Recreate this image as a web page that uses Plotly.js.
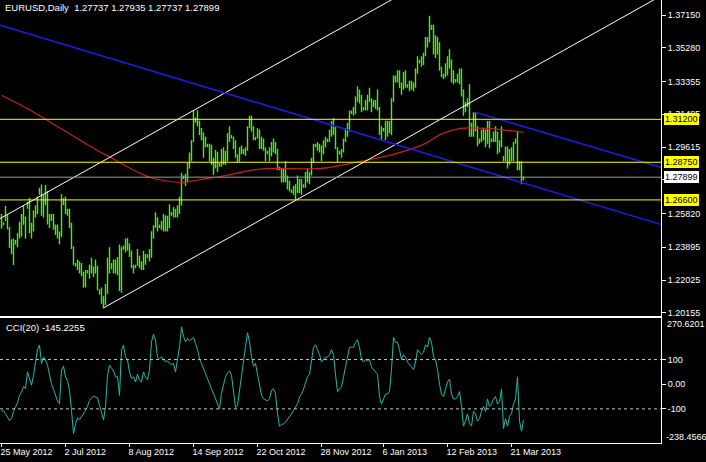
<!DOCTYPE html>
<html><head><meta charset="utf-8">
<script src="https://cdn.plot.ly/plotly-3.0.1.min.js"></script>
<style>html,body{margin:0;padding:0;background:#000;overflow:hidden}#chart{width:706px;height:462px}</style>
</head><body><div id="chart"></div>
<script>
// ---- price bars (daily EURUSD, index 0 = 25 May 2012) ----
const open = [1.2530,
1.2520,1.2550,1.2565,1.2495,1.2390,1.2370, 1.2410,1.2425,1.2450,1.2455,1.2560,1.2530,
1.2620,1.2640,1.2480,1.2500,1.2565,1.2620, 1.2700,1.2720,1.2580,1.2680,1.2700,1.2535,
1.2560,1.2560,1.2510,1.2495,1.2470,1.2450, 1.2640,1.2655,1.2590,1.2600,1.2510,1.2390,
1.2285,1.2295,1.2290,1.2245,1.2240,1.2200, 1.2245,1.2255,1.2285,1.2270,1.2265,1.2280,
1.2130,1.2140,1.2110,1.2065,1.2160,1.2290, 1.2270,1.2290,1.2260,1.2300,1.2310,1.2170,
1.2385,1.2390,1.2400,1.2410,1.2370,1.2280, 1.2275,1.2285,1.2340,1.2280,1.2290,1.2350,
1.2330,1.2340,1.2335,1.2480,1.2510,1.2560, 1.2505,1.2515,1.2505,1.2570,1.2530,1.2540,
1.2575,1.2585,1.2600,1.2580,1.2610,1.2630, 1.2790,1.2795,1.2765,1.2860,1.2900,1.2995,
1.3110,1.3120,1.3110,1.3050,1.3040,1.2975, 1.2965,1.2970,1.2940,1.2870,1.2870,1.2920,
1.2855,1.2860,1.2890,1.2895,1.2900,1.3030, 1.3020,1.3020,1.2960,1.2905,1.2880,1.2950,
1.2935,1.2940,1.2950,1.3070,1.3120,1.3060, 1.3010,1.3015,1.3060,1.2960,1.2980,1.2950,
1.2925,1.2930,1.2910,1.2970,1.2960,1.2950, 1.2835,1.2840,1.2795,1.2815,1.2765,1.2745,
1.2705,1.2710,1.2710,1.2715,1.2740,1.2775, 1.2735,1.2740,1.2810,1.2815,1.2815,1.2885,
1.2965,1.2970,1.2975,1.2945,1.2950,1.2980, 1.2995,1.3000,1.3050,1.3100,1.3070,1.2960,
1.2920,1.2930,1.2945,1.3000,1.3060,1.3080, 1.3155,1.3160,1.3165,1.3240,1.3265,1.3240,
1.3180,1.3185,1.3220,1.3230,1.3225,1.3215, 1.3200,1.3190,1.3180,1.3050,1.3060,1.3060,
1.3110,1.3080,1.3060,1.3230,1.3340,1.3355, 1.3380,1.3300,1.3290,1.3380,1.3305,1.3310,
1.3320,1.3310,1.3315,1.3385,1.3450,1.3455, 1.3450,1.3490,1.3575,1.3580,1.3650,1.3645,
1.3520,1.3590,1.3520,1.3400,1.3360,1.3370, 1.3400,1.3455,1.3460,1.3365,1.3340,1.3345,
1.3360,1.3400,1.3280,1.3190,1.3195,1.3230, 1.3060,1.3060,1.3140,1.3060,1.2990,1.3000,
1.3020,1.3050,1.2980,1.3100,1.2995,1.3000, 1.3030,1.3040,1.2950,1.2985,1.2895,1.2900,
1.2960,1.2880,1.2940,1.2900,1.2990,1.3000, 1.2860,1.2850,1.27737];
const high = [1.2580,
1.2532,1.2625,1.2577,1.2505,1.2436,1.2440, 1.2432,1.2470,1.2535,1.2580,1.2625,1.2565,
1.2650,1.2672,1.2530,1.2600,1.2630,1.2680, 1.2730,1.2748,1.2690,1.2745,1.2710,1.2580,
1.2580,1.2580,1.2520,1.2520,1.2480,1.2692, 1.2670,1.2680,1.2610,1.2610,1.2530,1.2395,
1.2300,1.2320,1.2310,1.2300,1.2250,1.2260, 1.2260,1.2290,1.2330,1.2280,1.2320,1.2285,
1.2150,1.2160,1.2110,1.2180,1.2330,1.2390, 1.2300,1.2320,1.2320,1.2335,1.2405,1.2390,
1.2400,1.2440,1.2443,1.2410,1.2370,1.2290, 1.2290,1.2380,1.2340,1.2310,1.2370,1.2350,
1.2350,1.2380,1.2480,1.2515,1.2590,1.2560, 1.2520,1.2540,1.2580,1.2570,1.2570,1.2635,
1.2590,1.2620,1.2610,1.2630,1.2680,1.2815, 1.2800,1.2810,1.2870,1.2930,1.3000,1.3169,
1.3130,1.3172,1.3110,1.3070,1.3045,1.3020, 1.2980,1.2980,1.2975,1.2900,1.2945,1.2935,
1.2870,1.2950,1.2960,1.2940,1.3040,1.3080, 1.3030,1.3020,1.3000,1.2920,1.2960,1.2970,
1.2950,1.2960,1.3080,1.3140,1.3140,1.3080, 1.3020,1.3070,1.3060,1.3020,1.3010,1.2960,
1.2940,1.2960,1.2990,1.3010,1.2990,1.2950, 1.2850,1.2840,1.2840,1.2880,1.2800,1.2770,
1.2720,1.2740,1.2750,1.2800,1.2780,1.2780, 1.2750,1.2820,1.2840,1.2820,1.2900,1.2980,
1.2980,1.2990,1.2980,1.2970,1.3000,1.3020, 1.3010,1.3060,1.3110,1.3127,1.3080,1.2960,
1.2940,1.2950,1.3010,1.3070,1.3100,1.3170, 1.3170,1.3190,1.3250,1.3308,1.3290,1.3260,
1.3190,1.3230,1.3260,1.3300,1.3240,1.3230, 1.3230,1.3290,1.3190,1.3080,1.3070,1.3110,
1.3110,1.3110,1.3240,1.3370,1.3370,1.3400, 1.3400,1.3330,1.3390,1.3400,1.3320,1.3340,
1.3340,1.3330,1.3410,1.3480,1.3460,1.3480, 1.3500,1.3590,1.3590,1.3711,1.3660,1.3660,
1.3600,1.3590,1.3560,1.3420,1.3380,1.3440, 1.3480,1.3520,1.3460,1.3400,1.3350,1.3380,
1.3410,1.3410,1.3290,1.3220,1.3240,1.3320, 1.3100,1.3160,1.3160,1.3080,1.3010,1.3060,
1.3070,1.3060,1.3110,1.3110,1.3010,1.3050, 1.3080,1.3050,1.3000,1.3080,1.2910,1.2965,
1.2965,1.2950,1.2960,1.2990,1.3010,1.3050, 1.2880,1.2880,1.27935];
const low = [1.2495,
1.2515,1.2540,1.2492,1.2385,1.2350,1.2288, 1.2405,1.2390,1.2440,1.2450,1.2518,1.2440,
1.2610,1.2470,1.2440,1.2480,1.2560,1.2580, 1.2690,1.2570,1.2560,1.2630,1.2520,1.2500,
1.2540,1.2490,1.2460,1.2440,1.2407,1.2450, 1.2630,1.2580,1.2570,1.2500,1.2380,1.2290,
1.2280,1.2260,1.2240,1.2225,1.2160,1.2160, 1.2240,1.2210,1.2240,1.2220,1.2240,1.2145,
1.2120,1.2067,1.2042,1.2060,1.2125,1.2240, 1.2265,1.2240,1.2240,1.2230,1.2140,1.2130,
1.2375,1.2360,1.2370,1.2335,1.2270,1.2240, 1.2270,1.2285,1.2270,1.2260,1.2260,1.2290,
1.2330,1.2310,1.2330,1.2440,1.2500,1.2480, 1.2500,1.2490,1.2480,1.2480,1.2480,1.2500,
1.2570,1.2560,1.2560,1.2560,1.2580,1.2630, 1.2780,1.2740,1.2760,1.2840,1.2880,1.2990,
1.3100,1.3080,1.3030,1.3000,1.2900,1.2960, 1.2960,1.2880,1.2860,1.2803,1.2840,1.2820,
1.2850,1.2850,1.2860,1.2860,1.2880,1.2990, 1.3010,1.2950,1.2900,1.2870,1.2880,1.2920,
1.2920,1.2910,1.2940,1.3070,1.3050,1.3000, 1.3000,1.3010,1.2950,1.2950,1.2940,1.2880,
1.2920,1.2880,1.2910,1.2930,1.2920,1.2830, 1.2830,1.2760,1.2760,1.2760,1.2720,1.2710,
1.2700,1.2690,1.2661,1.2700,1.2700,1.2690, 1.2730,1.2730,1.2760,1.2750,1.2800,1.2870,
1.2960,1.2940,1.2930,1.2880,1.2920,1.2960, 1.2990,1.2990,1.3020,1.3030,1.2950,1.2876,
1.2920,1.2900,1.2930,1.2990,1.3020,1.3050, 1.3150,1.3140,1.3150,1.3220,1.3210,1.3160,
1.3170,1.3170,1.3170,1.3220,1.3160,1.3190, 1.3180,1.3170,1.3030,1.2998,1.3050,1.3000,
1.3020,1.3040,1.3030,1.3220,1.3330,1.3330, 1.3300,1.3260,1.3290,1.3300,1.3300,1.3280,
1.3290,1.3280,1.3300,1.3380,1.3440,1.3420, 1.3430,1.3480,1.3530,1.3560,1.3630,1.3490,
1.3470,1.3490,1.3400,1.3360,1.3350,1.3360, 1.3370,1.3410,1.3330,1.3320,1.3330,1.3330,
1.3320,1.3250,1.3140,1.3160,1.3190,1.3020, 1.3020,1.3020,1.3050,1.2966,1.2980,1.2990,
1.3000,1.2960,1.2980,1.2955,1.2990,1.2990, 1.2990,1.2920,1.2930,1.2960,1.2880,1.2880,
1.2840,1.2860,1.2880,1.2880,1.2980,1.2830, 1.2830,1.2750,1.27737];
const close = [1.2516,
1.2528,1.2565,1.2495,1.2390,1.2370,1.2435, 1.2425,1.2450,1.2455,1.2560,1.2530,1.2500,
1.2640,1.2480,1.2500,1.2565,1.2620,1.2640, 1.2720,1.2580,1.2680,1.2700,1.2535,1.2570,
1.2560,1.2510,1.2495,1.2470,1.2450,1.2660, 1.2655,1.2590,1.2605,1.2510,1.2390,1.2290,
1.2295,1.2290,1.2245,1.2240,1.2200,1.2250, 1.2255,1.2285,1.2270,1.2265,1.2280,1.2155,
1.2140,1.2110,1.2065,1.2160,1.2290,1.2290, 1.2290,1.2260,1.2300,1.2310,1.2170,1.2390,
1.2390,1.2400,1.2410,1.2370,1.2280,1.2285, 1.2285,1.2340,1.2280,1.2290,1.2350,1.2335,
1.2340,1.2335,1.2480,1.2510,1.2560,1.2515, 1.2515,1.2505,1.2570,1.2530,1.2540,1.2575,
1.2585,1.2600,1.2580,1.2610,1.2630,1.2800, 1.2795,1.2765,1.2860,1.2900,1.2995,1.3130,
1.3120,1.3110,1.3050,1.3040,1.2975,1.2975, 1.2970,1.2940,1.2870,1.2870,1.2920,1.2855,
1.2860,1.2890,1.2895,1.2900,1.3030,1.3035, 1.3020,1.2960,1.2905,1.2880,1.2950,1.2950,
1.2940,1.2950,1.3070,1.3120,1.3060,1.3020, 1.3015,1.3060,1.2960,1.2980,1.2950,1.2940,
1.2930,1.2910,1.2970,1.2960,1.2950,1.2835, 1.2840,1.2795,1.2815,1.2765,1.2745,1.2710,
1.2710,1.2710,1.2715,1.2740,1.2775,1.2740, 1.2740,1.2810,1.2815,1.2815,1.2885,1.2975,
1.2970,1.2975,1.2945,1.2950,1.2980,1.2985, 1.3000,1.3050,1.3100,1.3070,1.2960,1.2925,
1.2930,1.2945,1.3000,1.3060,1.3080,1.3160, 1.3160,1.3165,1.3240,1.3265,1.3240,1.3185,
1.3185,1.3220,1.3230,1.3225,1.3220,1.3200, 1.3190,1.3180,1.3050,1.3070,1.3060,1.3110,
1.3080,1.3060,1.3230,1.3360,1.3355,1.3380, 1.3300,1.3290,1.3380,1.3320,1.3310,1.3320,
1.3310,1.3315,1.3385,1.3460,1.3455,1.3450, 1.3490,1.3575,1.3580,1.3640,1.3645,1.3520,
1.3590,1.3520,1.3400,1.3365,1.3370,1.3400, 1.3455,1.3460,1.3365,1.3360,1.3345,1.3360,
1.3400,1.3280,1.3190,1.3190,1.3230,1.3060, 1.3060,1.3140,1.3060,1.3020,1.3000,1.3020,
1.3050,1.2980,1.3100,1.3000,1.3000,1.3030, 1.3040,1.2950,1.2985,1.3075,1.2900,1.2960,
1.2880,1.2940,1.2900,1.2985,1.3000,1.2860, 1.2850,1.2775,1.27899];

// ---- CCI(20) ----
const cci = [-110,-107,-120,-136,-147,-140, -110,-93,-76,-45,-32,-9,
-18,50,23,-4,36,98, 141,159,84,111,98,77, 36,2,-21,-45,-68,-79,
57,73,30,16,-25,-106, -201,-160,-136,-144,-131,-122, -106,-90,-66,-55,-49,-52,
-55,-86,-113,-144,-93,36, 77,64,54,30,30,-45, 138,159,111,98,50,23,
30,9,41,16,9,50, 30,19,57,172,203,179, 108,104,111,100,91,95,
84,81,84,50,104,152, 233,195,172,186,176,183, 190,165,141,104,84,60,
41,27,0,-18,-36,-55, -72,-100,-36,0,30,46, 54,36,-25,-95,-86,-22,
43,95,152,209,172,111, 73,84,43,-11,-45,-59, -63,-68,-59,-25,-18,-38,
-120,-171,-163,-161,-154,-144, -131,-120,-106,-95,-79,-52, -40,-20,10,30,40,90,
150,160,140,120,90,100, 110,110,120,140,120,40, -30,-20,-10,30,70,100,
150,150,150,170,180,150, 100,90,100,95,100,70, 60,50,40,-50,-80,-60,
-40,-40,-30,60,190,170, 170,140,100,120,110,90, 80,70,60,90,140,130,
120,130,160,150,190,170, 110,100,60,0,-40,-50, -20,10,20,-40,-60,-60,
-50,-30,-90,-170,-150,-120, -160,-170,-110,-120,-150,-140, -110,-90,-110,-60,-90,-80,
-60,-50,-80,-70,-20,-180, -140,-170,-130,-120,-80,-60, 30,-150,-190,-145.2255];
const cciLevels = [100, -100];

// ---- moving average (red), read at points along the line ----
const maIdx = [0,14.5,29.5,48,54.5,64.5,74.5,89.5,99.5,109.5,124.5,134.5,159.5,177,189.5,199.5,212,219.5,229.5,243,253,261];
const maVal = [1.32572,1.31714,1.30684,1.29425,1.29025,1.28395,1.27880,1.27594,1.27766,1.27937,1.28281,1.28395,1.28395,1.28739,1.29025,1.29311,1.29826,1.30341,1.30684,1.30684,1.30570,1.30456];

// ---- trend lines (two anchor points each: bar index, price) ----
const whiteUpperX = [-0.75, 200], whiteUpperY = [1.25534, 1.38338];
const whiteLowerX = [51, 330],    whiteLowerY = [1.2044, 1.3826];
const blueLongX   = [-0.75, 330], blueLongY   = [1.36578, 1.25191];
const blueShortX  = [237, 330],   blueShortY  = [1.31600, 1.28452];

// ---- horizontal levels ----
const levelPrices = [1.31200, 1.28750, 1.26600];
const levelLabels = ['1.31200', '1.28750', '1.26600'];
const bidPrice = 1.27899, bidLabel = '1.27899';

// ---- axis ticks ----
const priceTicks = [1.37150,1.35280,1.33355,1.31485,1.29615,1.27750,1.25820,1.23895,1.22025,1.20155];
const priceTickText = ['1.37150','1.35280','1.33355','1.31485','1.29615','','1.25820','1.23895','1.22025','1.20155'];
const cciTicks = [100, 0, -100];
const cciTickText = ['100', '0.00', '-100'];
const cciMax = 270.6201, cciMin = -238.4566;
const dateTickIdx = [0, 32, 64, 96, 128, 160, 191, 223, 255];
const dateTickText = ['25 May 2012','2 Jul 2012','8 Aug 2012','14 Sep 2012','22 Oct 2012','28 Nov 2012','6 Jan 2013','12 Feb 2013','21 Mar 2013'];

const titleText = 'EURUSD,Daily\u00a0 1.27737 1.27935 1.27737 1.27899';
const cciTitle = 'CCI(20) -145.2255';

// ---------- drawing ----------
const FONT = '"Liberation Sans", Arial, sans-serif';
const BAR = '#4ee81c';
const idx = open.map((_, i) => i);
const PH = 443; // plot height in px (margin b = 19)
const mainLow = (PH - 315.5) / PH, cciHigh = (PH - 317.5) / PH;
const XR = [-0.75, 329.75];

const traces = [
  {type:'ohlc', x:idx, open:open, high:high, low:low, close:close, xaxis:'x', yaxis:'y',
   increasing:{line:{color:BAR, width:1.4}}, decreasing:{line:{color:BAR, width:1.4}},
   tickwidth:0.25, hoverinfo:'skip', showlegend:false},
  {type:'scatter', mode:'lines', x:maIdx, y:maVal, xaxis:'x', yaxis:'y',
   line:{color:'#c81e1e', width:1.2, shape:'spline', smoothing:0.8}, hoverinfo:'skip', showlegend:false},
  {type:'scatter', mode:'lines', x:whiteUpperX, y:whiteUpperY, xaxis:'x', yaxis:'y', line:{color:'#ffffff', width:1}, hoverinfo:'skip', showlegend:false},
  {type:'scatter', mode:'lines', x:whiteLowerX, y:whiteLowerY, xaxis:'x', yaxis:'y', line:{color:'#ffffff', width:1}, hoverinfo:'skip', showlegend:false},
  {type:'scatter', mode:'lines', x:blueLongX, y:blueLongY, xaxis:'x', yaxis:'y', line:{color:'#1c1cd8', width:1.6}, hoverinfo:'skip', showlegend:false},
  {type:'scatter', mode:'lines', x:blueShortX, y:blueShortY, xaxis:'x', yaxis:'y', line:{color:'#1c1cd8', width:1.6}, hoverinfo:'skip', showlegend:false},
  {type:'scatter', mode:'lines', x:idx, y:cci, xaxis:'x2', yaxis:'y2', line:{color:'#2bb5a8', width:1}, hoverinfo:'skip', showlegend:false}
];

const shapes = [];
levelPrices.forEach(p => shapes.push({type:'line', xref:'paper', x0:0, x1:1, yref:'y', y0:p, y1:p, line:{color:'#ffff00', width:1}}));
shapes.push({type:'line', xref:'paper', x0:0, x1:1, yref:'y', y0:bidPrice, y1:bidPrice, line:{color:'#9a9a9a', width:1}});
cciLevels.forEach(v => shapes.push({type:'line', xref:'paper', x0:0, x1:1, yref:'y2', y0:v, y1:v, line:{color:'#c8c8c8', width:1, dash:'3px,3px'}}));

const txt = (s, c) => ({family:FONT, size:s, color:c || '#ffffff'});
const annotations = [
  {xref:'paper', yref:'paper', x:3/661, y:1 - 8/PH, xanchor:'left', yanchor:'middle', text:titleText, showarrow:false, font:txt(9.5)},
  {xref:'paper', yref:'paper', x:4/661, y:(PH - 327)/PH, xanchor:'left', yanchor:'middle', text:cciTitle, showarrow:false, font:txt(9.5)},
  {xref:'paper', yref:'paper', x:665/661, y:(PH - 323.5)/PH, xanchor:'left', yanchor:'middle', text:cciMax.toFixed(4), showarrow:false, font:txt(9)},
  {xref:'paper', yref:'paper', x:664/661, y:(PH - 436.5)/PH, xanchor:'left', yanchor:'middle', text:cciMin.toFixed(4), showarrow:false, font:txt(9)}
];
levelPrices.forEach((p, k) => annotations.push({xref:'paper', yref:'y', x:664/661, y:p, xanchor:'left', yanchor:'middle',
  text:levelLabels[k], showarrow:false, font:txt(9, '#000000'), bgcolor:'#ffff00', bordercolor:'#ffff00', borderwidth:1, borderpad:0}));
annotations.push({xref:'paper', yref:'y', x:664/661, y:bidPrice, xanchor:'left', yanchor:'middle',
  text:bidLabel, showarrow:false, font:txt(9, '#000000'), bgcolor:'#ffffff', bordercolor:'#ffffff', borderwidth:1, borderpad:0});

const layout = {
  width:706, height:462,
  margin:{l:0, r:45, t:0, b:19, pad:0},
  paper_bgcolor:'#000000', plot_bgcolor:'#000000',
  showlegend:false,
  font:{family:FONT, size:9, color:'#ffffff'},
  xaxis:{domain:[0,1], anchor:'y', range:XR, showticklabels:false, ticks:'', showgrid:false, zeroline:false,
         showline:true, linecolor:'#ffffff', linewidth:1, rangeslider:{visible:false}, fixedrange:true},
  yaxis:{domain:[mainLow,1], anchor:'x', side:'right', range:[1.20005, 1.38008], showgrid:false, zeroline:false,
         showline:true, linecolor:'#ffffff', linewidth:1, ticks:'outside', ticklen:4, tickcolor:'#ffffff', tickwidth:1,
         tickmode:'array', tickvals:priceTicks, ticktext:priceTickText, tickfont:txt(9)},
  xaxis2:{domain:[0,1], anchor:'y2', matches:'x', range:XR, showgrid:false, zeroline:false,
          showline:true, mirror:true, linecolor:'#ffffff', linewidth:1, ticks:'outside', ticklen:3, tickcolor:'#ffffff',
          tickmode:'array', tickvals:dateTickIdx, ticktext:dateTickText, ticklabelposition:'outside right', ticklabelshift:-2,
          tickfont:txt(9), rangeslider:{visible:false}},
  yaxis2:{domain:[0,cciHigh], anchor:'x2', side:'right', range:[cciMin, cciMax], showgrid:false, zeroline:false,
          showline:true, linecolor:'#ffffff', linewidth:1, ticks:'outside', ticklen:4, tickcolor:'#ffffff',
          tickmode:'array', tickvals:cciTicks, ticktext:cciTickText, tickfont:txt(9)},
  shapes:shapes,
  annotations:annotations
};

Plotly.newPlot('chart', traces, layout, {staticPlot:true, displayModeBar:false});
</script>
</body></html>
